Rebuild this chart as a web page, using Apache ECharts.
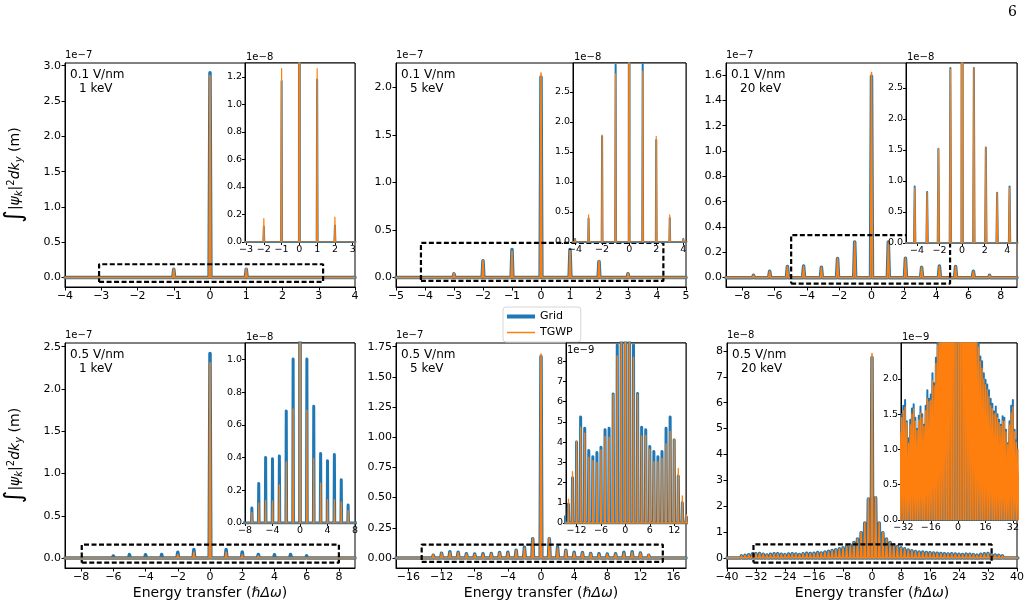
<!DOCTYPE html>
<html><head><meta charset="utf-8">
<script src="https://cdn.jsdelivr.net/npm/echarts@6/dist/echarts.min.js"></script>
<style>html,body{margin:0;padding:0;background:#fff}#c{width:1029px;height:608px}</style>
</head><body><div id="c"></div><script>
// ===== DATA (values in units of 1e-9 m) =====
// Panel 1: 0.1 V/nm, 1 keV
const p1Pos  = [-3, -2, -1, 0, 1, 2, 3];
const p1Grid = [0.05, 1.1, 11.7, 290, 11.8, 1.2, 0.05];
const p1Tgwp = [0.05, 1.7, 12.6, 286, 12.6, 1.8, 0.05];
// Panel 2: 0.1 V/nm, 5 keV
const p2Pos  = [-4, -3, -2, -1, 0, 1, 2, 3, 4];
const p2Grid = [0.5, 3.9, 17.6, 29.5, 211, 29.6, 17.0, 4.0, 0.5];
const p2Tgwp = [0.5, 4.5, 17.8, 28.0, 215, 28.4, 17.6, 4.5, 0.5];
// Panel 3: 0.1 V/nm, 20 keV
const p3Pos  = [-8.4, -7.3, -6.3, -5.2, -4.2, -3.1, -2.1, -1.04, 0, 1.04, 2.1, 3.1, 4.2, 5.2, 6.3, 7.3, 8.4];
const p3Grid = [0.4, 1.8, 5.0, 8.8, 9.1, 8.2, 15.2, 28.2, 159, 28.2, 15.4, 8.1, 9.1, 8.8, 5.0, 1.8, 0.4];
const p3Tgwp = [0.4, 1.8, 5.0, 8.8, 8.9, 8.1, 15.2, 28.0, 162, 28.2, 15.4, 8.1, 8.9, 8.8, 5.0, 1.8, 0.4];
// Panel 4: 0.5 V/nm, 1 keV
const p4Pos  = [-8, -7, -6, -5, -4, -3, -2, -1, 0, 1, 2, 3, 4, 5, 6, 7, 8];
const p4Grid = [0.1, 0.92, 2.42, 4.0, 3.93, 4.1, 6.84, 10.02, 242, 10.02, 7.13, 4.24, 3.8, 4.18, 2.65, 1.1, 0.1];
const p4Tgwp = [0.05, 0.65, 1.22, 1.39, 1.36, 2.33, 3.73, 6.97, 231, 6.9, 3.95, 2.44, 1.43, 1.43, 1.29, 0.77, 0.05];
// Panel 5: 0.5 V/nm, 5 keV
const p5Pos  = [-16, -15, -14, -13, -12, -11, -10, -9, -8, -7, -6, -5, -4, -3, -2, -1, 0, 1, 2, 3, 4, 5, 6, 7, 8, 9, 10, 11, 12, 13, 14, 15, 16];
const p5Grid = [0.1, 0.3, 0.93, 2.24, 4.0, 5.24, 4.69, 3.58, 3.28, 3.48, 3.75, 4.61, 4.69, 6.38, 8.8, 16.0, 167, 16.0, 8.8, 6.4, 4.73, 4.61, 3.78, 3.53, 3.28, 3.53, 4.69, 5.24, 4.11, 2.32, 1.0, 0.3, 0.1];
const p5Tgwp = [0.1, 0.4, 1.18, 2.54, 4.06, 4.74, 4.44, 3.25, 3.08, 3.0, 3.62, 4.28, 4.25, 6.35, 8.26, 16.2, 169, 16.2, 8.2, 6.35, 4.31, 4.33, 3.65, 3.03, 3.03, 3.2, 3.91, 4.53, 4.16, 2.7, 1.34, 0.4, 0.1];
// Panel 6: 0.5 V/nm, 20 keV  (orders -40 ... 40)
const p6Pos  = [-40,-39,-38,-37,-36,-35,-34,-33,-32,-31,-30,-29,-28,-27,-26,-25,-24,-23,-22,-21,-20,-19,-18,-17,-16,-15,-14,-13,-12,-11,-10,-9,-8,-7,-6,-5,-4,-3,-2,-1,0,1,2,3,4,5,6,7,8,9,10,11,12,13,14,15,16,17,18,19,20,21,22,23,24,25,26,27,28,29,30,31,32,33,34,35,36,37,38,39,40];
const p6Grid = [0.1,0.2,0.4,0.6,0.8,1.0,1.24,1.5,1.62,1.70,1.40,1.16,1.42,1.58,1.64,1.45,1.29,1.48,1.61,1.50,1.35,1.62,1.84,1.72,1.78,2.08,1.94,2.30,2.55,2.85,3.2,3.5,3.9,4.4,5.0,6.0,7.3,9.7,13.5,22.8,77.5,23.3,13.5,9.7,7.3,6.0,5.0,4.4,3.9,3.5,3.1,2.8,2.5,2.32,2.25,2.08,1.99,1.92,1.84,1.72,1.65,1.54,1.61,1.50,1.42,1.35,1.47,1.45,1.28,1.09,1.40,1.62,1.70,1.28,1.13,1.0,0.8,0.6,0.4,0.2,0.1];
const p6Tgwp = [0.1,0.2,0.4,0.6,0.8,1.0,1.24,1.45,1.55,1.60,1.38,1.09,1.35,1.50,1.58,1.40,1.27,1.42,1.52,1.45,1.33,1.55,1.72,1.68,1.70,1.98,1.90,2.22,2.48,2.8,3.15,3.45,3.85,4.35,4.95,5.95,7.3,9.8,13.6,23.0,79.0,23.6,13.6,9.8,7.3,5.95,4.95,4.35,3.85,3.45,3.05,2.75,2.45,2.25,2.15,2.0,1.92,1.85,1.75,1.62,1.58,1.50,1.52,1.45,1.38,1.33,1.40,1.40,1.25,1.07,1.35,1.52,1.60,1.25,1.10,1.0,0.8,0.6,0.4,0.2,0.1];

// Panel labels
const fieldLabels  = ['0.1 V/nm', '0.1 V/nm', '0.1 V/nm', '0.5 V/nm', '0.5 V/nm', '0.5 V/nm'];
const energyLabels = ['1 keV', '5 keV', '20 keV', '1 keV', '5 keV', '20 keV'];
const mainExp  = ['1e\u22127', '1e\u22127', '1e\u22127', '1e\u22127', '1e\u22127', '1e\u22128'];
const insetExp = ['1e\u22128', '1e\u22128', '1e\u22128', '1e\u22128', '1e\u22129', '1e\u22129'];
const seriesNames = ['Grid', 'TGWP'];

// Axis ticks (data units) for main plots
const mainXTicks = [
  [-4,-3,-2,-1,0,1,2,3,4],
  [-5,-4,-3,-2,-1,0,1,2,3,4,5],
  [-8,-6,-4,-2,0,2,4,6,8],
  [-8,-6,-4,-2,0,2,4,6,8],
  [-16,-12,-8,-4,0,4,8,12,16],
  [-40,-32,-24,-16,-8,0,8,16,24,32,40]
];
const mainYTicks = [
  [0,50,100,150,200,250,300],
  [0,50,100,150,200],
  [0,20,40,60,80,100,120,140,160],
  [0,50,100,150,200,250],
  [0,25,50,75,100,125,150,175],
  [0,10,20,30,40,50,60,70,80]
];
const insetXTicks = [
  [-3,-2,-1,0,1,2,3],
  [-4,-2,0,2,4],
  [-4,-2,0,2,4],
  [-8,-4,0,4,8],
  [-12,-6,0,6,12],
  [-32,-16,0,16,32]
];
const insetYTicks = [
  [0,2,4,6,8,10,12],
  [0,5,10,15,20,25],
  [0,5,10,15,20,25],
  [0,2,4,6,8,10],
  [0,1,2,3,4,5,6,7,8],
  [0,0.5,1.0,1.5,2.0]
];
// label scaling: displayed = value / div, with dec decimals
const mainYDiv = [100,100,100,100,100,10], mainYDec = [1,1,1,1,2,0];
const insetYDiv = [10,10,10,10,1,1], insetYDec = [1,1,1,1,0,1];

// axis ranges
const mainXRange = [[-4,4],[-5,5],[-9,9],[-9,9],[-17.5,17.5],[-40,40]];
const mainYRange = [[-13.3,303.8],[-9.9,225.6],[-7.4,169.5],[-11.8,254.4],[-8.3,178.1],[-3.9,83.1]];
const insetXRange = [[-3.06,3.13],[-4.15,4.2],[-4.97,4.86],[-8,8],[-14.6,14.9],[-33.4,34.4]];
const insetYRange = [[0,13],[0,29.8],[0,29],[0,11],[0,8.9],[0,2.51]];
// zoom rectangles [x0, x1, y0, y1]
const zoomRects = [
  [-3.06,3.12,-6.1,18.9],
  [-4.14,4.22,-3.5,36.5],
  [-4.97,4.86,-4.7,33.5],
  [-7.96,8.0,-5.5,15.8],
  [-14.4,14.7,-3.3,11.1],
  [-32.7,33.0,-1.8,5.2]
];

// ===== LAYOUT / STYLE =====
const mainBox = [
  {l:65,t:63,w:290,h:224},{l:396,t:63,w:290,h:224},{l:726,t:63,w:291,h:224},
  {l:65,t:343,w:290,h:225},{l:396,t:343,w:290,h:225},{l:727,t:343,w:290,h:225}
];
const insetBox = [
  {l:245,t:63,w:110,h:179},{l:573,t:63,w:113,h:179},{l:906,t:63,w:111,h:180},
  {l:245,t:343,w:110,h:180},{l:566,t:343,w:120,h:180},{l:901,t:343,w:116,h:177}
];
const peakHW = [0.025,0.03,0.06,0.05,0.1,0.22];
const insetBlueW   = [2, 2, 2, 3, 3, 2];
const insetOrangeW = [1.2, 1.2, 1.2, 1.2, 1.3, 1.3];
const BLUE = '#1f77b4', ORANGE = '#ff7f0e';
const FONT = 'DejaVu Sans';
const minus = s => String(s).replace('-', '\u2212');

const allPos  = [p1Pos,p2Pos,p3Pos,p4Pos,p5Pos,p6Pos];
const allGrid = [p1Grid,p2Grid,p3Grid,p4Grid,p5Grid,p6Grid];
const allTgwp = [p1Tgwp,p2Tgwp,p3Tgwp,p4Tgwp,p5Tgwp,p6Tgwp];

function peaks(pos, h, hw, x0, x1) {
  const d = [[x0, 0]];
  pos.forEach((x, i) => { d.push([x - hw, 0], [x, h[i]], [x + hw, 0]); });
  d.push([x1, 0]);
  return d;
}

const grids = [], xAxes = [], yAxes = [], series = [], graphics = [];
for (let i = 0; i < 6; i++) {
  const b = mainBox[i];
  grids.push({left:b.l, top:b.t, width:b.w, height:b.h, show:true, borderColor:'#000', borderWidth:1, backgroundColor:'rgba(0,0,0,0)'});
}
for (let i = 0; i < 6; i++) {
  const b = insetBox[i];
  grids.push({left:b.l, top:b.t, width:b.w, height:b.h, show:true, borderColor:'#000', borderWidth:1, backgroundColor:'#fff', z:5});
}
const yName = '{i|\u222b}{m||\u03c8}{sb|k}{m||}{sp|2}{m|dk}{sb|y}{r| (m)}';
const yNameStyle = {
  color:'#000',
  rich:{
    i:{fontFamily:FONT, fontStyle:'italic', fontSize:24, color:'#000'},
    m:{fontFamily:FONT, fontStyle:'italic', fontSize:14, color:'#000'},
    sb:{fontFamily:FONT, fontStyle:'italic', fontSize:10, color:'#000', padding:[8,0,0,0]},
    sp:{fontFamily:FONT, fontSize:10, color:'#000', padding:[0,0,8,0]},
    r:{fontFamily:FONT, fontSize:14, color:'#000'}
  }
};
for (let i = 0; i < 6; i++) {
  const xa = {
    gridIndex:i, type:'value', min:mainXRange[i][0], max:mainXRange[i][1],
    axisLine:{show:true, onZero:false, lineStyle:{color:'#000', width:1}},
    axisTick:{show:true, length:3.5, customValues:mainXTicks[i], lineStyle:{color:'#000'}},
    axisLabel:{customValues:mainXTicks[i], fontSize:11, fontFamily:FONT, color:'#000', margin:4, formatter:v=>minus(v)},
    splitLine:{show:false}
  };
  if (i >= 3) {
    xa.name = '{t|Energy transfer (}{m|\u210f\u0394\u03c9}{t|)}';
    xa.nameLocation = 'middle'; xa.nameGap = 18;
    xa.nameTextStyle = {rich:{t:{fontFamily:FONT, fontSize:14, color:'#000'}, m:{fontFamily:FONT, fontStyle:'italic', fontSize:14, color:'#000'}}};
  }
  xAxes.push(xa);
  const ya = {
    gridIndex:i, type:'value', min:mainYRange[i][0], max:mainYRange[i][1],
    axisLine:{show:true, onZero:false, lineStyle:{color:'#000', width:1}},
    axisTick:{show:true, length:3.5, customValues:mainYTicks[i], lineStyle:{color:'#000'}},
    axisLabel:{customValues:mainYTicks[i], fontSize:11, fontFamily:FONT, color:'#000', margin:4,
      formatter:(v)=>(v/mainYDiv[i]).toFixed(mainYDec[i])},
    splitLine:{show:false}
  };
  if (i === 0 || i === 3) {
    ya.name = yName; ya.nameLocation = 'middle'; ya.nameRotate = 90; ya.nameGap = 38;
    ya.nameTextStyle = yNameStyle;
  }
  yAxes.push(ya);
}
for (let i = 0; i < 6; i++) {
  xAxes.push({
    gridIndex:6+i, type:'value', min:insetXRange[i][0], max:insetXRange[i][1], z:6,
    axisLine:{show:true, onZero:false, lineStyle:{color:'#000', width:1}},
    axisTick:{show:true, length:3, customValues:insetXTicks[i], lineStyle:{color:'#000'}},
    axisLabel:{customValues:insetXTicks[i], fontSize:9.5, fontFamily:FONT, color:'#000', margin:3, formatter:v=>minus(v)},
    splitLine:{show:false}
  });
  yAxes.push({
    gridIndex:6+i, type:'value', min:insetYRange[i][0], max:insetYRange[i][1], z:6,
    axisLine:{show:true, onZero:false, lineStyle:{color:'#000', width:1}},
    axisTick:{show:true, length:3, customValues:insetYTicks[i], lineStyle:{color:'#000'}},
    axisLabel:{customValues:insetYTicks[i], fontSize:9.5, fontFamily:FONT, color:'#000', margin:3,
      formatter:(v)=>(v/insetYDiv[i]).toFixed(insetYDec[i])},
    splitLine:{show:false}
  });
}
function lineSeries(name, ax, data, color, width, z) {
  return {name, type:'line', xAxisIndex:ax, yAxisIndex:ax, data, symbol:'none', showSymbol:false,
    clip:true, animation:false, silent:true, z,
    lineStyle:{color, width, join:'round', cap:'round'}, itemStyle:{color}};
}
for (let i = 0; i < 6; i++) {
  const x0 = mainXRange[i][0], x1 = mainXRange[i][1];
  const gd = peaks(allPos[i], allGrid[i], peakHW[i], x0, x1);
  const td = peaks(allPos[i], allTgwp[i], peakHW[i], x0, x1);
  series.push(lineSeries(seriesNames[0], i, gd, BLUE, 3.5, 2));
  series.push(lineSeries(seriesNames[1], i, td, ORANGE, 1.6, 2.5));
  const r = zoomRects[i];
  series.push({type:'line', xAxisIndex:i, yAxisIndex:i, symbol:'none', animation:false, silent:true, z:3,
    data:[[r[0],r[2]],[r[1],r[2]],[r[1],r[3]],[r[0],r[3]],[r[0],r[2]]],
    lineStyle:{color:'#000', width:2.2, type:[5,2.5]}});
  series.push(lineSeries(seriesNames[0], 6+i, gd, BLUE, insetBlueW[i], 7));
  series.push(lineSeries(seriesNames[1], 6+i, td, ORANGE, insetOrangeW[i], 8));
}
// texts
for (let i = 0; i < 6; i++) {
  const b = mainBox[i], ib = insetBox[i];
  graphics.push({type:'text', left:b.l+5, top:b.t+6, z:20, style:{text:fieldLabels[i], font:'12px "DejaVu Sans"', fill:'#000'}});
  graphics.push({type:'text', left:b.l+14, top:b.t+20, z:20, style:{text:energyLabels[i], font:'12px "DejaVu Sans"', fill:'#000'}});
  graphics.push({type:'text', left:b.l, top:b.t-13, z:20, style:{text:mainExp[i], font:'10px "DejaVu Sans"', fill:'#000'}});
  const it = (i === 4) ? ib.t + 2 : ib.t - 11;
  graphics.push({type:'text', left:ib.l+1, top:it, z:20, style:{text:insetExp[i], font:'10px "DejaVu Sans"', fill:'#000'}});
}
graphics.push({type:'text', right:12, top:5, z:20, style:{text:'6', font:'14px "DejaVu Serif"', fill:'#000'}});

const option = {
  animation:false,
  backgroundColor:'#fff',
  grid:grids, xAxis:xAxes, yAxis:yAxes, series,
  legend:{
    data:[
      {name:seriesNames[0], icon:'path://M0,0 L28,0 L28,4 L0,4 Z', itemStyle:{color:BLUE}},
      {name:seriesNames[1], icon:'path://M0,0 L28,0 L28,1.5 L0,1.5 Z', itemStyle:{color:ORANGE}}
    ],
    orient:'vertical', left:503, top:307, itemWidth:28, itemHeight:10, itemGap:5,
    padding:[4,8,4,4], borderColor:'#d6d6d6', borderWidth:1, borderRadius:3, backgroundColor:'#fff',
    textStyle:{fontFamily:FONT, fontSize:11, color:'#000'}, selectedMode:false, symbolKeepAspect:true
  },
  graphic:graphics
};
const chart = echarts.init(document.getElementById('c'), null, {renderer:'canvas'});
chart.setOption(option);
</script></body></html>
